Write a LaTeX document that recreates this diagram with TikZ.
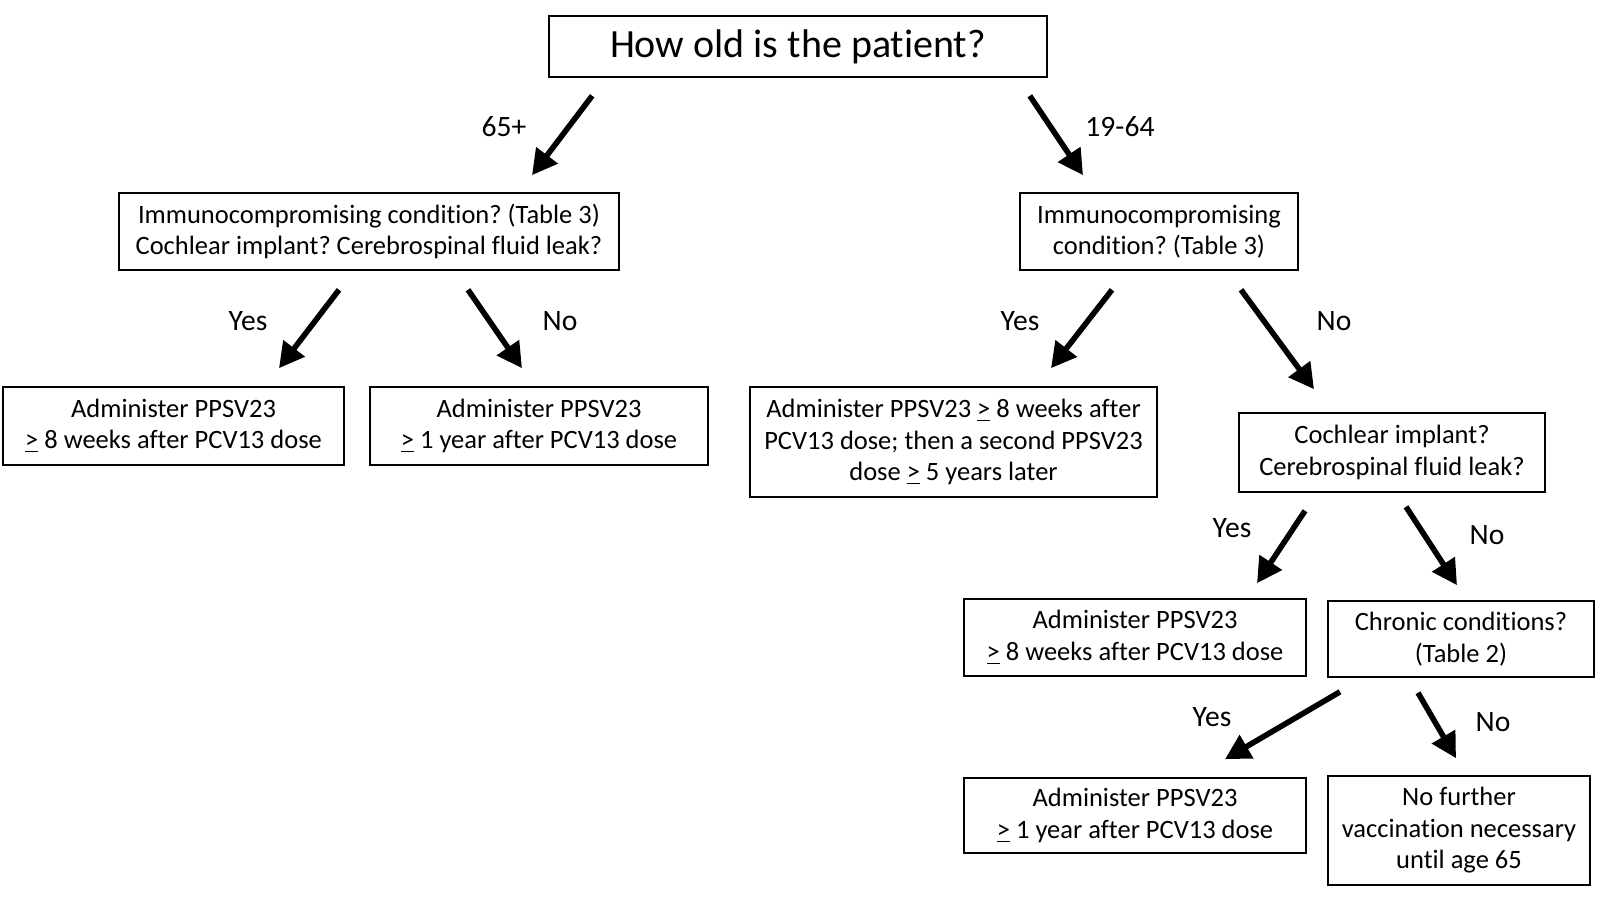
\documentclass[tikz,border=0pt]{standalone}
\usepackage{fontspec}
\setmainfont{Carlito}[Ligatures=NoCommon]
\usepackage{tikz}
\usetikzlibrary{arrows.meta}
\frenchspacing

\tikzset{
  box/.style={draw, line width=0.8pt, align=center, inner sep=0pt,
    font=\fontsize{13.25}{15.75}\selectfont},
  arr/.style={line width=2.8pt, -{Triangle[length=12.5pt,width=13pt]}},
  lbl/.style={font=\fontsize{14.8}{17}\selectfont},
}
\newcommand{\ulge}{\underline{>}}

\begin{document}
\begin{tikzpicture}[x=0.5pt,y=-0.5pt]
    \useasboundingbox (0,0) rectangle (1600,897);
    %% boxes, placed at pixel coordinates
    \node[box, minimum width=249pt, minimum height=30.5pt, font=\fontsize{20}{24}\selectfont] (top) at (798,46.5) {How old is the patient?};
    \node[box, minimum width=250pt, minimum height=38.5pt] (l1) at (369,231.5) {Immunocompromising condition? (Table 3)\\Cochlear implant? Cerebrospinal fluid leak?};
    \node[box, minimum width=139pt, minimum height=38.5pt] (r1) at (1159,231.5) {Immunocompromising\\condition? (Table 3)};
    \node[box, minimum width=170.5pt, minimum height=39pt] (ll) at (173.5,426) {Administer PPSV23\\\ulge\ 8 weeks after PCV13 dose};
    \node[box, minimum width=169pt, minimum height=39pt] (lr) at (539,426) {Administer PPSV23\\\ulge\ 1 year after PCV13 dose};
    \node[box, minimum width=203.5pt, minimum height=55pt] (rl) at (953.5,442) {Administer PPSV23 \ulge\ 8 weeks after\\PCV13 dose; then a second PPSV23\\dose \ulge\ 5 years later};
    \node[box, minimum width=153pt, minimum height=39.5pt] (rr) at (1392,452.5) {Cochlear implant?\\Cerebrospinal fluid leak?};
    \node[box, minimum width=171pt, minimum height=38.5pt] (rrl) at (1135,637.5) {Administer PPSV23\\\ulge\ 8 weeks after PCV13 dose};
    \node[box, minimum width=133pt, minimum height=38pt] (rrr) at (1461,639) {Chronic conditions?\\(Table 2)};
    \node[box, minimum width=171pt, minimum height=37.5pt] (rrrl) at (1135,815.5) {Administer PPSV23\\\ulge\ 1 year after PCV13 dose};
    \node[box, minimum width=131pt, minimum height=54.5pt] (rrrr) at (1459,830.5) {No further\\vaccination necessary\\until age 65};
    %% arrows, from box to box with small gaps
    \draw[arr] ([shift={(44,18)}]top.south west) -- ([shift={(163,-17)}]l1.north);
    \draw[arr] ([shift={(-18,18)}]top.south east) -- ([shift={(-76,-17)}]r1.north);
    \draw[arr] ([shift={(-30,19)}]l1.south) -- ([shift={(105.5,-18)}]ll.north);
    \draw[arr] ([shift={(99,19)}]l1.south) -- ([shift={(-17,-18)}]lr.north);
    \draw[arr] ([shift={(-47,19)}]r1.south) -- ([shift={(97.5,-18)}]rl.north);
    \draw[arr] ([shift={(82,19)}]r1.south) -- ([shift={(-78,-23)}]rr.north);
    \draw[arr] ([shift={(-87,18)}]rr.south) -- ([shift={(122,-15)}]rrl.north);
    \draw[arr] ([shift={(14,14)}]rr.south) -- ([shift={(-4,-15)}]rrr.north);
    \draw[arr] ([shift={(-121,14)}]rrr.south) -- ([shift={(90,-18)}]rrrl.north);
    \draw[arr] ([shift={(-43,15)}]rrr.south) -- ([shift={(-3,-17)}]rrrr.north);
    %% labels
    \node[lbl] (age65) at (504,126.5) {65+};
    \node[lbl] (age19) at (1120,126.5) {19-64};
    \node[lbl] (lyes) at (248,321) {Yes};
    \node[lbl] (lno) at (560,321) {No};
    \node[lbl] (ryes) at (1020,321) {Yes};
    \node[lbl] (rno) at (1334,321) {No};
    \node[lbl] (rryes) at (1232,528) {Yes};
    \node[lbl] (rrno) at (1487,535) {No};
    \node[lbl] (rrryes) at (1212,717) {Yes};
    \node[lbl] (rrrno) at (1493,722) {No};
\end{tikzpicture}
\end{document}
